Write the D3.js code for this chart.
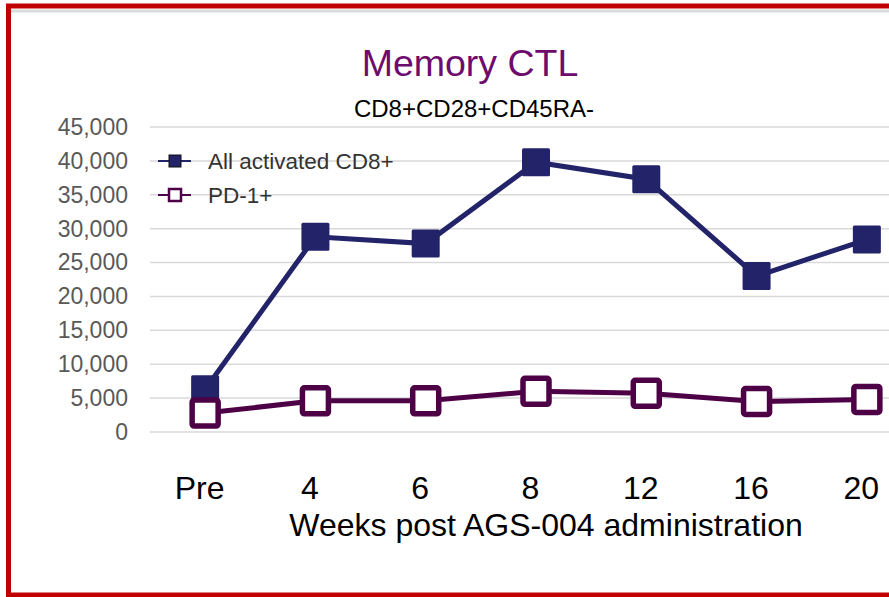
<!DOCTYPE html>
<html>
<head>
<meta charset="utf-8">
<script src="https://cdn.jsdelivr.net/npm/d3@7"></script>
<style>
  html, body { margin: 0; padding: 0; background: #fff; }
  svg { display: block; font-family: "Liberation Sans", Arial, sans-serif; }
</style>
</head>
<body>
<svg id="chart" width="889" height="597"></svg>
<script>
// chart data
const weeks = ['Pre', '4', '6', '8', '12', '16', '20'];
const allActivated = [6300, 28800, 27800, 39800, 37300, 23000, 28400];
const pd1 = [2800, 4600, 4600, 6000, 5700, 4500, 4800];
const yTicks = [0, 5000, 10000, 15000, 20000, 25000, 30000, 35000, 40000, 45000];
const seriesNames = ['All activated CD8+', 'PD-1+'];

const navy = '#232369';
const purple = '#4e0047';

const svg = d3.select('#chart');

// frame
svg.append('line')
  .attr('x1', 11).attr('x2', 889).attr('y1', 11).attr('y2', 11)
  .attr('stroke', '#dcdcdc').attr('stroke-width', 3);
svg.append('rect')
  .attr('x', 8.5).attr('y', 6)
  .attr('width', 900).attr('height', 589)
  .attr('fill', 'none')
  .attr('stroke', '#c00000')
  .attr('stroke-width', 5);

const x = d3.scalePoint().domain(weeks).range([150, 922]).padding(0.5);
const y = d3.scaleLinear().domain([0, 45000]).range([432, 127]);

// gridlines
svg.append('g')
  .selectAll('line')
  .data(yTicks)
  .join('line')
  .attr('x1', 150).attr('x2', 889)
  .attr('y1', (d) => y(d)).attr('y2', (d) => y(d))
  .attr('stroke', '#d9d9d9')
  .attr('stroke-width', 1.5);

// y axis
const yAxis = svg.append('g')
  .attr('transform', 'translate(150,0)')
  .call(d3.axisLeft(y).tickValues(yTicks).tickFormat(d3.format(',')).tickSize(0).tickPadding(22));
yAxis.select('.domain').remove();
yAxis.selectAll('text')
  .attr('font-size', 23)
  .attr('fill', '#595959')
  .attr('font-family', '"Liberation Sans", Arial, sans-serif');

// x axis
const xAxis = svg.append('g')
  .attr('transform', 'translate(0,432)')
  .call(d3.axisBottom(x).tickSize(0).tickPadding(0));
xAxis.select('.domain').remove();
xAxis.selectAll('text')
  .attr('dy', 0)
  .attr('y', 67)
  .attr('dx', -6)
  .attr('font-size', 32)
  .attr('fill', '#000')
  .attr('font-family', '"Liberation Sans", Arial, sans-serif');

svg.append('text')
  .attr('x', 546).attr('y', 536)
  .attr('text-anchor', 'middle')
  .attr('font-size', 32)
  .text('Weeks post AGS-004 administration');

// titles
svg.append('text')
  .attr('x', 470).attr('y', 76)
  .attr('text-anchor', 'middle')
  .attr('font-size', 37.5)
  .attr('fill', '#6e0b6e')
  .text('Memory CTL');
svg.append('text')
  .attr('x', 474).attr('y', 117)
  .attr('text-anchor', 'middle')
  .attr('font-size', 24)
  .attr('fill', '#000')
  .text('CD8+CD28+CD45RA-');

const line = d3.line().x((d, i) => x(weeks[i])).y((d) => y(d));

// PD-1+ series
svg.append('path')
  .datum(pd1)
  .attr('d', line)
  .attr('fill', 'none')
  .attr('stroke', purple)
  .attr('stroke-width', 5);

// All activated series
svg.append('path')
  .datum(allActivated)
  .attr('d', line)
  .attr('fill', 'none')
  .attr('stroke', navy)
  .attr('stroke-width', 5);

svg.append('g')
  .selectAll('rect')
  .data(allActivated)
  .join('rect')
  .attr('x', (d, i) => x(weeks[i]) - 14)
  .attr('y', (d) => y(d) - 14)
  .attr('width', 28).attr('height', 28)
  .attr('rx', 1.5)
  .attr('fill', navy);

svg.append('g')
  .selectAll('rect')
  .data(pd1)
  .join('rect')
  .attr('x', (d, i) => x(weeks[i]) - 13)
  .attr('y', (d) => y(d) - 13)
  .attr('width', 26).attr('height', 26)
  .attr('rx', 2)
  .attr('fill', '#fff')
  .attr('stroke', purple)
  .attr('stroke-width', 5.5);

// legend
const legend = svg.append('g');
const legendY = [161, 195];
const legendColors = [navy, purple];
seriesNames.forEach((name, i) => {
  const g = legend.append('g').attr('transform', `translate(0,${legendY[i]})`);
  g.append('line')
    .attr('x1', 158).attr('x2', 191)
    .attr('stroke', legendColors[i]).attr('stroke-width', 2);
  g.append('rect')
    .attr('x', 169).attr('y', -6)
    .attr('width', 12).attr('height', 12)
    .attr('fill', i === 0 ? navy : '#fff')
    .attr('stroke', i === 0 ? '#111' : purple)
    .attr('stroke-width', i === 0 ? 1 : 2.5);
  g.append('text')
    .attr('x', 208).attr('y', 8)
    .attr('font-size', 22.5)
    .attr('fill', '#333')
    .text(name);
});
</script>
</body>
</html>
